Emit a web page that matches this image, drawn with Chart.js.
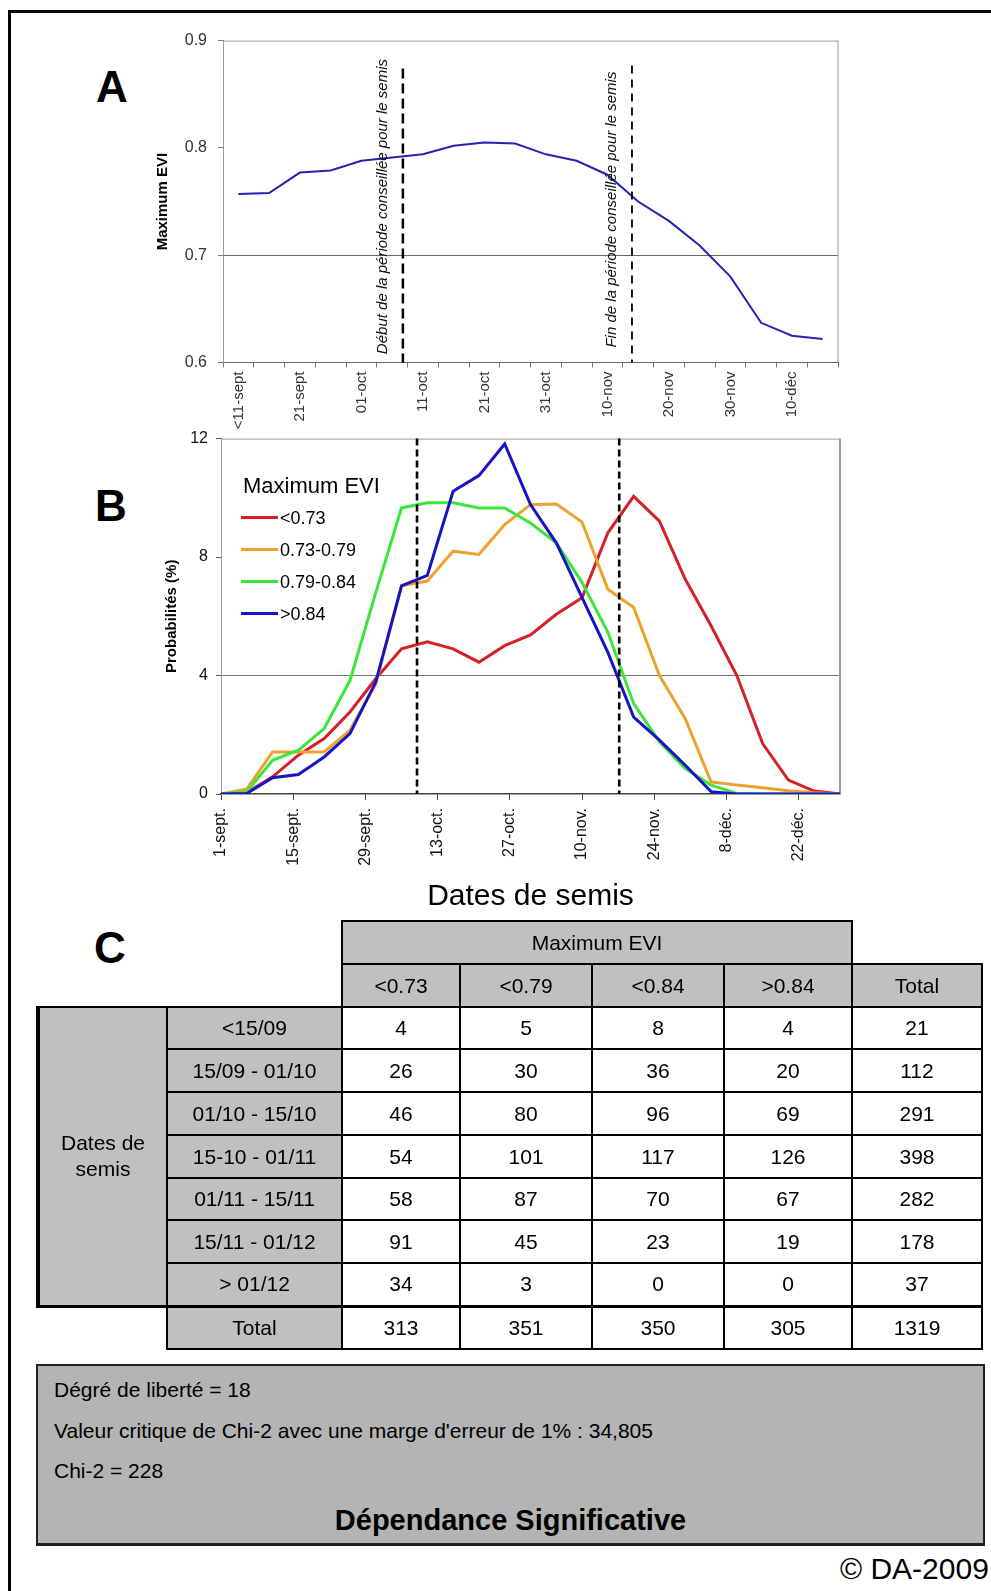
<!DOCTYPE html>
<html>
<head>
<meta charset="utf-8">
<title>Maximum EVI et dates de semis</title>
<script src="https://cdn.jsdelivr.net/npm/chart.js@4.4.0/dist/chart.umd.min.js"></script>
<style>
html, body { margin: 0; padding: 0; background: #fff; width: 991px; height: 1591px; overflow: hidden;
  font-family: "Liberation Sans", Arial, Helvetica, sans-serif; color: #000; }
#cadre { position: absolute; left: 8px; top: 10px; width: 1020px; height: 1620px; border: 3px solid #000; }
.lettre { position: absolute; font-size: 44px; line-height: 44px; font-weight: bold; }
#chartA { position: absolute; left: 140px; top: 20px; }
#chartB { position: absolute; left: 140px; top: 421px; }
table { position: absolute; left: 36px; top: 920px; border-collapse: collapse; table-layout: fixed; font-size: 21px; }
td { border: 2px solid #000; text-align: center; vertical-align: middle; padding: 0; background: #fff; }
td.g { background: #c0c0c0; }
td.vide { border: none; background: transparent; }
td.bloc { border-left: 4px solid #000; border-bottom: 3px solid #000; line-height: 26px; }
tr.fin td { border-bottom: 3px solid #000; }
#chi { position: absolute; left: 36px; top: 1364px; width: 949px; height: 182px; box-sizing: border-box;
  border: 2px solid #222; border-bottom-width: 3px; background: #b4b4b4; }
#chi div { position: absolute; left: 16px; font-size: 21px; line-height: 24px; }
#chi .gras { left: 0; width: 100%; text-align: center; font-size: 29px; line-height: 34px; font-weight: bold; }
#copy { position: absolute; left: 840px; top: 1552px; font-size: 30px; line-height: 34px; white-space: nowrap; }
</style>
</head>
<body>
<div id="cadre"></div>
<div class="lettre" style="left:96px;top:65px">A</div>
<div class="lettre" style="left:95px;top:484px">B</div>
<div class="lettre" style="left:94px;top:926px">C</div>

<canvas id="chartA" width="720" height="410"></canvas>
<canvas id="chartB" width="720" height="510"></canvas>

<table id="tableau">
  <colgroup>
    <col style="width:129px"><col style="width:175px"><col style="width:118px"><col style="width:132px">
    <col style="width:132px"><col style="width:128px"><col style="width:130px">
  </colgroup>
  <tbody id="corps"></tbody>
</table>

<div id="chi">
  <div style="top:12px">Dégré de liberté = 18</div>
  <div style="top:53px">Valeur critique de Chi-2 avec une marge d'erreur de 1% : 34,805</div>
  <div style="top:93px">Chi-2 = 228</div>
  <div class="gras" style="top:137px">Dépendance Significative</div>
</div>
<div id="copy">© DA-2009</div>

<script>
// A : Maximum EVI selon la date de semis
var datesA = ['<11-sept', '16-sept', '21-sept', '26-sept', '01-oct', '06-oct', '11-oct', '16-oct', '21-oct', '26-oct',
              '31-oct', '05-nov', '10-nov', '15-nov', '20-nov', '25-nov', '30-nov', '05-déc', '10-déc', '15-déc'];
var eviMax = [0.757, 0.758, 0.777, 0.779, 0.788, 0.791, 0.794, 0.802, 0.805, 0.804,
              0.794, 0.788, 0.775, 0.750, 0.732, 0.709, 0.680, 0.637, 0.625, 0.622];
var periodeA = [5.35, 12.8]; // début / fin de la période conseillée (rang de date)
var textesA = ['Début de la période conseillée pour le semis', 'Fin de la période conseillée pour le semis'];

// B : probabilités (%) par classe de Maximum EVI, tous les 5 jours depuis le 1er sept.
var joursB = [0, 5, 10, 15, 20, 25, 30, 35, 40, 45, 50, 55, 60, 65, 70, 75, 80, 85, 90, 95, 100, 105, 110, 115, 120];
var classesB = ['<0.73', '0.73-0.79', '0.79-0.84', '>0.84'];
var probInf073 = [0, 0.05, 0.58, 1.31, 1.87, 2.77, 3.89, 4.90, 5.14, 4.90, 4.45, 5.01, 5.37,
                  6.07, 6.63, 8.82, 10.05, 9.21, 7.25, 5.68, 4.0, 1.70, 0.47, 0.10, 0];
var prob073079 = [0, 0.17, 1.42, 1.42, 1.42, 2.15, 3.72, 7.03, 7.19, 8.2, 8.09, 9.10, 9.77,
                  9.79, 9.18, 6.91, 6.30, 4.0, 2.54, 0.41, 0.30, 0.21, 0.11, 0.04, 0];
var prob079084 = [0, 0.08, 1.14, 1.48, 2.21, 3.83, 6.80, 9.66, 9.83, 9.83, 9.66, 9.66, 9.15,
                  8.48, 7.14, 5.46, 3.05, 1.76, 0.86, 0.30, 0.02, 0, 0, 0, 0];
var probSup084 = [0, 0.02, 0.55, 0.66, 1.25, 2.04, 3.78, 7.03, 7.38, 10.22, 10.75, 11.82, 9.77,
                  8.48, 6.63, 4.78, 2.60, 1.82, 0.97, 0.08, 0, 0, 0, 0, 0];
var couleursB = ['#d42026', '#eea12c', '#3be63b', '#1515c6'];
var ticksB = [0, 14, 28, 42, 56, 70, 84, 98, 112];
var labelsB = ['1-sept.', '15-sept.', '29-sept.', '13-oct.', '27-oct.', '10-nov.', '24-nov.', '8-déc.', '22-déc.'];
var periodeB = [38, 77.2]; // jours depuis le 1er sept.

// C : tableau de contingence
var classesC = ['<0.73', '<0.79', '<0.84', '>0.84'];
var periodesC = ['<15/09', '15/09 - 01/10', '01/10 - 15/10', '15-10 - 01/11', '01/11 - 15/11', '15/11 - 01/12', '> 01/12'];
var effectifs = [
    [4, 5, 8, 4],
    [26, 30, 36, 20],
    [46, 80, 96, 69],
    [54, 101, 117, 126],
    [58, 87, 70, 67],
    [91, 45, 23, 19],
    [34, 3, 0, 0]
];

var police = '"Liberation Sans", Arial, Helvetica, sans-serif';
Chart.defaults.font.family = police;

var cadrePlot = {
    id: 'cadrePlot',
    beforeDatasetsDraw: function (chart, args, opts) {
        var a = chart.chartArea, ctx = chart.ctx;
        ctx.save();
        ctx.strokeStyle = '#9a9a9a';
        ctx.lineWidth = 1;
        ctx.beginPath();
        ctx.moveTo(a.left, a.top + 0.5);
        ctx.lineTo(a.right, a.top + 0.5);
        ctx.stroke();
        ctx.lineWidth = opts.droite || 1;
        ctx.beginPath();
        ctx.moveTo(a.right, a.top);
        ctx.lineTo(a.right, a.bottom);
        ctx.stroke();
        ctx.restore();
    }
};

var conseilA = {
    id: 'conseilA',
    afterDatasetsDraw: function (chart) {
        var ctx = chart.ctx, a = chart.chartArea, x = chart.scales.x;
        var mid = (a.top + a.bottom) / 2;
        ctx.save();
        periodeA.forEach(function (val, i) {
            var px = x.getPixelForValue(val);
            ctx.strokeStyle = '#000';
            ctx.lineWidth = i === 0 ? 2.5 : 1.8;
            ctx.setLineDash(i === 0 ? [10, 5] : [8, 6]);
            ctx.beginPath();
            ctx.moveTo(px, a.top + (i === 0 ? 28 : 25));
            ctx.lineTo(px, a.bottom);
            ctx.stroke();
            ctx.setLineDash([]);
            ctx.save();
            ctx.translate(px - 20, mid + (i === 0 ? 5 : 8));
            ctx.rotate(-Math.PI / 2);
            ctx.font = 'italic 15px ' + police;
            ctx.fillStyle = '#111';
            ctx.textAlign = 'center';
            ctx.textBaseline = 'middle';
            ctx.fillText(textesA[i], 0, 0);
            ctx.restore();
        });
        ctx.restore();
    }
};

var conseilB = {
    id: 'conseilB',
    afterDatasetsDraw: function (chart) {
        var ctx = chart.ctx, a = chart.chartArea, x = chart.scales.x;
        ctx.save();
        ctx.strokeStyle = '#000';
        ctx.lineWidth = 2.6;
        ctx.setLineDash([7, 4]);
        periodeB.forEach(function (val) {
            var px = x.getPixelForValue(val);
            ctx.beginPath();
            ctx.moveTo(px, a.top);
            ctx.lineTo(px, a.bottom);
            ctx.stroke();
        });
        ctx.restore();
    }
};

var legendeB = {
    id: 'legendeB',
    afterDraw: function (chart) {
        var ctx = chart.ctx, a = chart.chartArea;
        var x = a.left + 22, y = a.top + 48;
        ctx.save();
        ctx.fillStyle = '#000';
        ctx.textBaseline = 'middle';
        ctx.font = '22px ' + police;
        ctx.fillText('Maximum EVI', x, y);
        ctx.font = '18px ' + police;
        chart.data.datasets.forEach(function (ds, i) {
            var yy = y + 31 + 32 * i;
            ctx.strokeStyle = ds.borderColor;
            ctx.lineWidth = 3;
            ctx.beginPath();
            ctx.moveTo(x - 2, yy);
            ctx.lineTo(x + 35, yy);
            ctx.stroke();
            ctx.fillText(ds.label, x + 37, yy + 1);
        });
        ctx.restore();
    }
};

new Chart(document.getElementById('chartA'), {
    type: 'line',
    data: {
        labels: datesA,
        datasets: [{
            label: 'Maximum EVI',
            data: eviMax,
            borderColor: '#2424b4',
            borderWidth: 2,
            pointRadius: 0,
            tension: 0,
            fill: false
        }]
    },
    options: {
        responsive: false,
        animation: false,
        devicePixelRatio: 1,
        layout: { padding: { top: 12, right: 22, left: 0, bottom: 0 } },
        plugins: { legend: { display: false }, tooltip: { enabled: false }, cadrePlot: { droite: 1 } },
        scales: {
            x: {
                type: 'category',
                offset: true,
                grid: { offset: true, drawOnChartArea: false, color: '#777', tickLength: 5 },
                border: { color: '#666' },
                ticks: {
                    autoSkip: false, minRotation: 90, maxRotation: 90, padding: 4,
                    color: '#333', font: { size: 15 },
                    callback: function (v, i) { return i % 2 === 0 ? this.getLabelForValue(v) : ''; }
                },
                afterFit: function (s) { s.height = 67.5; }
            },
            y: {
                min: 0.6, max: 0.9,
                ticks: { stepSize: 0.1, padding: 11, color: '#333', font: { size: 16 },
                         callback: function (v) { return v.toFixed(1); } },
                grid: {
                    color: function (c) { return c.tick && Math.abs(c.tick.value - 0.7) < 1e-6 ? '#666' : 'rgba(0,0,0,0)'; },
                    tickColor: '#777', tickLength: 5
                },
                border: { color: '#999' },
                title: { display: true, text: 'Maximum EVI', color: '#000', font: { size: 15, weight: 'bold' },
                         padding: { top: 14, bottom: 0 } },
                afterFit: function (s) { s.width = 83; }
            }
        }
    },
    plugins: [cadrePlot, conseilA]
});

var seriesB = [probInf073, prob073079, prob079084, probSup084];
new Chart(document.getElementById('chartB'), {
    type: 'line',
    data: {
        datasets: seriesB.map(function (serie, i) {
            return {
                label: classesB[i],
                data: joursB.map(function (j, k) { return { x: j, y: serie[k] }; }),
                borderColor: couleursB[i],
                borderWidth: 3,
                pointRadius: 0,
                tension: 0,
                fill: false,
                order: 4 - i
            };
        })
    },
    options: {
        responsive: false,
        animation: false,
        devicePixelRatio: 1,
        layout: { padding: { top: 16, right: 20, left: 0, bottom: 0 } },
        plugins: { legend: { display: false }, tooltip: { enabled: false }, cadrePlot: { droite: 2 } },
        scales: {
            x: {
                type: 'linear',
                min: 0, max: 120,
                afterBuildTicks: function (s) { s.ticks = ticksB.map(function (v) { return { value: v }; }); },
                grid: { drawOnChartArea: false, color: '#444', tickLength: 6 },
                border: { color: '#444', width: 1.5 },
                ticks: {
                    autoSkip: false, minRotation: 90, maxRotation: 90, padding: 8,
                    color: '#111', font: { size: 16 },
                    callback: function (v, i) { return labelsB[i]; }
                },
                title: { display: true, text: 'Dates de semis', color: '#000', font: { size: 30 },
                         padding: { top: 0, bottom: 16 } },
                afterFit: function (s) { s.height = 137; }
            },
            y: {
                min: 0, max: 12,
                ticks: { stepSize: 4, padding: 8, color: '#111', font: { size: 16 } },
                grid: {
                    color: function (c) { return c.tick && c.tick.value === 4 ? '#777' : 'rgba(0,0,0,0)'; },
                    tickColor: '#555', tickLength: 5
                },
                border: { color: '#999' },
                title: { display: true, text: 'Probabilités (%)', color: '#000', font: { size: 15, weight: 'bold' },
                         padding: { top: 23, bottom: 0 } },
                afterFit: function (s) { s.width = 81; }
            }
        }
    },
    plugins: [cadrePlot, conseilB, legendeB]
});

// tableau C
(function () {
    var corps = document.getElementById('corps');
    var html = '';
    var totauxCol = [0, 0, 0, 0], totalGeneral = 0;
    html += '<tr style="height:43px"><td class="vide" colspan="2"></td><td class="g" colspan="4">Maximum EVI</td><td class="vide"></td></tr>';
    html += '<tr style="height:43px"><td class="vide" colspan="2"></td>';
    classesC.forEach(function (c) { html += '<td class="g">' + c + '</td>'; });
    html += '<td class="g">Total</td></tr>';
    periodesC.forEach(function (p, r) {
        var somme = 0;
        html += '<tr style="height:' + (r % 4 === 0 ? 42 : 43) + 'px"' + (r === periodesC.length - 1 ? ' class="fin"' : '') + '>';
        if (r === 0) html += '<td class="g bloc" rowspan="' + periodesC.length + '">Dates de<br>semis</td>';
        html += '<td class="g">' + p + '</td>';
        effectifs[r].forEach(function (n, c) {
            somme += n;
            totauxCol[c] += n;
            html += '<td>' + n + '</td>';
        });
        totalGeneral += somme;
        html += '<td>' + somme + '</td></tr>';
    });
    html += '<tr style="height:43px"><td class="vide"></td><td class="g">Total</td>';
    totauxCol.forEach(function (t) { html += '<td>' + t + '</td>'; });
    html += '<td>' + totalGeneral + '</td></tr>';
    corps.innerHTML = html;
})();
</script>
</body>
</html>
